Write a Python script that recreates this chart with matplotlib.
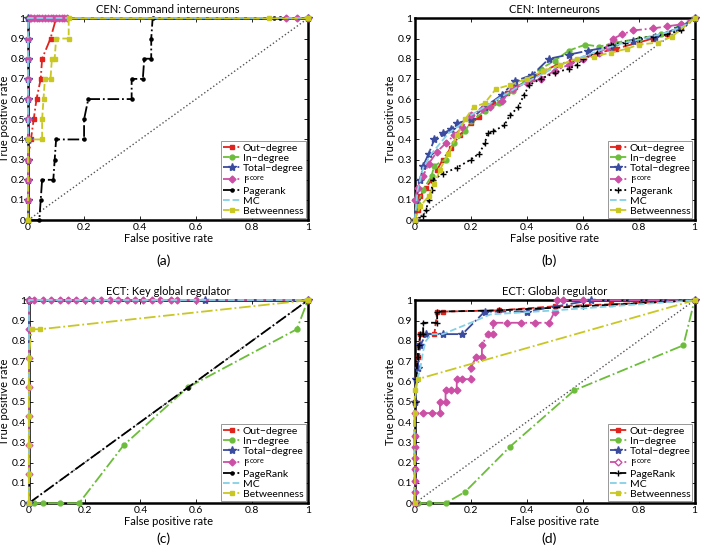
import matplotlib
matplotlib.use("Agg")
import matplotlib.pyplot as plt

plt.rcParams["font.family"] = ["Lato", "DejaVu Sans"]
plt.rcParams["mathtext.fontset"] = "custom"
plt.rcParams["mathtext.rm"] = "Lato"
plt.rcParams["mathtext.it"] = "Lato"

# ---- series names (legend order) ----
LABELS_CEN = ["Out\u2212degree", "In\u2212degree", "Total\u2212degree", r"I$^{\mathrm{score}}$",
              "Pagerank", "MC", "Betweenness"]
LABELS_ECT = ["Out\u2212degree", "In\u2212degree", "Total\u2212degree", r"I$^{\mathrm{score}}$",
              "PageRank", "MC", "Betweenness"]
TITLES = ["CEN: Command interneurons", "CEN: Interneurons",
          "ECT: Key global regulator", "ECT: Global regulator"]
PANEL_TAGS = ["(a)", "(b)", "(c)", "(d)"]

# ---- (a) CEN: Command interneurons ----
a_out_fpr = [0, 0, 0, 0, 0.01, 0.02, 0.03, 0.045, 0.05, 0.08, 0.1, 1]
a_out_tpr = [0, 0.1, 0.2, 0.3, 0.4, 0.5, 0.6, 0.7, 0.8, 0.9, 1, 1]
a_in_fpr = [0, 0, 0, 0, 0, 0, 0, 0, 0, 0, 0, 1]
a_in_tpr = [0, 0.1, 0.2, 0.3, 0.4, 0.5, 0.6, 0.7, 0.8, 0.9, 1, 1]
a_tot_fpr = [0, 0, 0, 0, 0, 0, 0, 0, 0, 0, 0, 1]
a_tot_tpr = [0, 0.1, 0.2, 0.3, 0.4, 0.5, 0.6, 0.7, 0.8, 0.9, 1, 1]
a_isc_fpr = [0, 0, 0, 0, 0, 0, 0, 0, 0, 0.005, 0.01, 0.02, 0.03, 0.04, 0.05, 0.06,
             0.07, 0.08, 0.09, 0.1, 0.11, 0.12, 0.13, 0.14, 0.92, 0.96, 1]
a_isc_tpr = [0.1, 0.2, 0.3, 0.4, 0.5, 0.6, 0.7, 0.8, 0.9, 1, 1, 1, 1, 1, 1, 1,
             1, 1, 1, 1, 1, 1, 1, 1, 1, 1, 1]
a_pr_fpr = [0, 0.04, 0.045, 0.05, 0.09, 0.095, 0.1, 0.2, 0.2, 0.215, 0.37, 0.37,
            0.41, 0.415, 0.44, 0.44, 0.445, 0.86, 0.88, 0.9, 1]
a_pr_tpr = [0, 0, 0.1, 0.2, 0.2, 0.3, 0.4, 0.4, 0.5, 0.6, 0.6, 0.7,
            0.7, 0.8, 0.8, 0.9, 1, 1, 1, 1, 1]
a_mc_fpr = [0, 0, 1]
a_mc_tpr = [0, 1, 1]
a_btw_fpr = [0, 0, 0.05, 0.05, 0.055, 0.06, 0.08, 0.085, 0.095, 0.1, 0.145, 0.145, 0.86, 1]
a_btw_tpr = [0, 0.4, 0.4, 0.5, 0.6, 0.7, 0.7, 0.8, 0.8, 0.9, 0.9, 1, 1, 1]

# ---- (b) CEN: Interneurons ----
b_out_fpr = [0, 0.01, 0.02, 0.04, 0.06, 0.08, 0.1, 0.13, 0.16, 0.2, 0.23, 0.28, 0.33,
             0.36, 0.42, 0.46, 0.51, 0.56, 0.6, 0.66, 0.72, 0.8, 0.85, 0.9, 0.95, 1]
b_out_tpr = [0, 0.05, 0.12, 0.16, 0.2, 0.25, 0.3, 0.36, 0.42, 0.48, 0.51, 0.58, 0.63,
             0.66, 0.7, 0.74, 0.77, 0.79, 0.8, 0.83, 0.85, 0.88, 0.9, 0.92, 0.95, 1]
b_in_fpr = [0, 0.01, 0.03, 0.06, 0.07, 0.11, 0.14, 0.18, 0.2, 0.25, 0.3, 0.35, 0.4,
            0.45, 0.5, 0.55, 0.61, 0.66, 0.72, 0.8, 0.88, 0.94, 1]
b_in_tpr = [0, 0.08, 0.15, 0.22, 0.27, 0.3, 0.38, 0.44, 0.49, 0.54, 0.58, 0.64, 0.7,
            0.75, 0.79, 0.84, 0.87, 0.86, 0.88, 0.9, 0.92, 0.95, 1]
b_tot_fpr = [0, 0.005, 0.02, 0.03, 0.05, 0.07, 0.1, 0.13, 0.15, 0.2, 0.25, 0.31, 0.36,
             0.42, 0.48, 0.55, 0.62, 0.7, 0.78, 0.86, 0.94, 1]
b_tot_tpr = [0, 0.1, 0.2, 0.27, 0.33, 0.4, 0.43, 0.45, 0.48, 0.5, 0.56, 0.62, 0.69,
             0.72, 0.8, 0.82, 0.84, 0.86, 0.89, 0.91, 0.95, 1]
b_isc_fpr = [0, 0.01, 0.03, 0.05, 0.08, 0.11, 0.14, 0.17, 0.2, 0.24, 0.27, 0.31, 0.35,
             0.4, 0.45, 0.5, 0.55, 0.6, 0.66, 0.69, 0.71, 0.74, 0.78, 0.85, 0.9, 0.95, 1]
b_isc_tpr = [0.1, 0.16, 0.22, 0.28, 0.34, 0.38, 0.42, 0.46, 0.52, 0.55, 0.56, 0.59, 0.65,
             0.68, 0.7, 0.74, 0.77, 0.8, 0.83, 0.86, 0.9, 0.92, 0.94, 0.95, 0.96, 0.97, 1]
b_pr_fpr = [0, 0.03, 0.04, 0.05, 0.06, 0.065, 0.1, 0.15, 0.2, 0.23, 0.25, 0.26, 0.28,
            0.32, 0.34, 0.37, 0.39, 0.41, 0.45, 0.5, 0.55, 0.58, 0.6, 0.65, 0.7, 0.75,
            0.8, 0.85, 0.9, 0.95, 1]
b_pr_tpr = [0, 0.02, 0.05, 0.1, 0.15, 0.2, 0.23, 0.26, 0.3, 0.33, 0.38, 0.43, 0.44,
            0.47, 0.52, 0.56, 0.62, 0.67, 0.7, 0.73, 0.75, 0.77, 0.8, 0.83, 0.87, 0.88,
            0.9, 0.91, 0.92, 0.94, 1]
b_mc_fpr = [0, 0.01, 0.03, 0.06, 0.09, 0.12, 0.16, 0.2, 0.26, 0.32, 0.38, 0.45, 0.52,
            0.6, 0.68, 0.75, 0.82, 0.9, 0.96, 1]
b_mc_tpr = [0, 0.15, 0.26, 0.33, 0.38, 0.43, 0.47, 0.52, 0.57, 0.62, 0.67, 0.72, 0.77,
            0.81, 0.85, 0.88, 0.9, 0.93, 0.96, 1]
b_btw_fpr = [0, 0.02, 0.05, 0.07, 0.09, 0.12, 0.15, 0.18, 0.21, 0.25, 0.29, 0.34, 0.4,
             0.46, 0.52, 0.58, 0.64, 0.7, 0.76, 0.8, 0.87, 0.92, 1]
b_btw_tpr = [0, 0.07, 0.12, 0.18, 0.25, 0.33, 0.42, 0.5, 0.56, 0.58, 0.65, 0.67, 0.7,
             0.74, 0.77, 0.8, 0.81, 0.83, 0.85, 0.87, 0.88, 0.91, 1]

# ---- (c) ECT: Key global regulator ----
c_out_fpr = [0, 0, 1]
c_out_tpr = [0, 1, 1]
c_in_fpr = [0, 0.02, 0.05, 0.11, 0.18, 0.34, 0.57, 0.96, 1]
c_in_tpr = [0, 0, 0, 0, 0, 0.286, 0.571, 0.857, 1]
c_tot_fpr = [0, 0, 0.63, 1]
c_tot_tpr = [0, 1, 1, 1]
c_isc_fpr = [0, 0, 0, 0, 0, 0, 0, 0.02, 0.05, 0.08, 0.11, 0.14, 0.17, 0.2, 0.23, 0.26,
             0.29, 0.32, 0.35, 0.38, 0.41, 0.44, 0.47, 0.51, 0.53, 0.6, 1]
c_isc_tpr = [0.143, 0.286, 0.429, 0.571, 0.714, 0.857, 1, 1, 1, 1, 1, 1, 1, 1, 1, 1,
             1, 1, 1, 1, 1, 1, 1, 1, 1, 1, 1]
c_pr_fpr = [0, 0.57, 1]
c_pr_tpr = [0, 0.57, 1]
c_mc_fpr = [0, 0, 1]
c_mc_tpr = [0, 1, 1]
c_btw_fpr = [0, 0, 0, 0, 0, 0, 0.01, 0.04, 1]
c_btw_tpr = [0, 0.143, 0.286, 0.429, 0.571, 0.714, 0.857, 0.857, 1]

# ---- (d) ECT: Global regulator ----
d_out_fpr = [0, 0, 0, 0, 0.005, 0.01, 0.015, 0.02, 0.07, 0.08, 0.1, 0.3, 0.5, 0.7, 1]
d_out_tpr = [0, 0.167, 0.333, 0.5, 0.611, 0.722, 0.778, 0.833, 0.833, 0.944, 0.944,
             0.95, 0.97, 0.98, 1]
d_in_fpr = [0, 0.01, 0.05, 0.11, 0.18, 0.34, 0.57, 0.96, 1]
d_in_tpr = [0, 0, 0, 0, 0.056, 0.278, 0.556, 0.778, 1]
d_tot_fpr = [0, 0, 0.005, 0.01, 0.02, 0.04, 0.1, 0.17, 0.25, 0.4, 0.63, 1]
d_tot_tpr = [0, 0.5, 0.611, 0.667, 0.778, 0.833, 0.833, 0.833, 0.944, 0.944, 1, 1]
d_isc_fpr = [0, 0, 0, 0, 0, 0, 0, 0, 0.03, 0.06, 0.09, 0.09, 0.11, 0.11, 0.13, 0.15,
             0.15, 0.17, 0.2, 0.2, 0.22, 0.24, 0.24, 0.26, 0.28, 0.28, 0.33, 0.38,
             0.43, 0.48, 0.5, 0.51, 0.53, 0.6, 1]
d_isc_tpr = [0, 0.056, 0.111, 0.167, 0.222, 0.278, 0.333, 0.444, 0.444, 0.444, 0.444,
             0.5, 0.5, 0.556, 0.556, 0.556, 0.611, 0.611, 0.611, 0.667, 0.722, 0.722,
             0.778, 0.833, 0.833, 0.889, 0.889, 0.889, 0.889, 0.889, 0.944, 1, 1, 1, 1]
d_pr_fpr = [0, 0, 0.005, 0.01, 0.015, 0.02, 0.03, 0.03, 0.08, 0.08, 0.3, 0.6, 1]
d_pr_tpr = [0, 0.5, 0.611, 0.722, 0.778, 0.833, 0.833, 0.889, 0.889, 0.944, 0.95, 0.97, 1]
d_mc_fpr = [0, 0, 0.01, 0.02, 0.03, 0.04, 0.06, 0.1, 0.2, 0.27, 0.5, 0.7, 1]
d_mc_tpr = [0, 0.5, 0.611, 0.667, 0.75, 0.8, 0.833, 0.833, 0.889, 0.93, 0.95, 0.97, 1]
d_btw_fpr = [0, 0, 0, 0.01, 1]
d_btw_tpr = [0, 0.444, 0.556, 0.611, 1]

# ---- styles ----
COLORS = ["#e0231d", "#6cbd3a", "#3b4b9e", "#cc4fa6", "#000000", "#86d0e6", "#c9c822"]
MSIZES = [3.5, 3.5, 6, 3.5, 4.5, 0, 3]

panels = [
    ([(a_out_fpr, a_out_tpr), (a_in_fpr, a_in_tpr), (a_tot_fpr, a_tot_tpr),
      (a_isc_fpr, a_isc_tpr), (a_pr_fpr, a_pr_tpr), (a_mc_fpr, a_mc_tpr),
      (a_btw_fpr, a_btw_tpr)], LABELS_CEN,
     ["-.", "--", "-.", "-.", "-.", "--", "--"], ["s", "o", "*", "D", ".", "", "s"]),
    ([(b_out_fpr, b_out_tpr), (b_in_fpr, b_in_tpr), (b_tot_fpr, b_tot_tpr),
      (b_isc_fpr, b_isc_tpr), (b_pr_fpr, b_pr_tpr), (b_mc_fpr, b_mc_tpr),
      (b_btw_fpr, b_btw_tpr)], LABELS_CEN,
     ["-.", "--", "-.", "-.", ":", "--", "--"], ["s", "o", "*", "D", "+", "", "s"]),
    ([(c_out_fpr, c_out_tpr), (c_in_fpr, c_in_tpr), (c_tot_fpr, c_tot_tpr),
      (c_isc_fpr, c_isc_tpr), (c_pr_fpr, c_pr_tpr), (c_mc_fpr, c_mc_tpr),
      (c_btw_fpr, c_btw_tpr)], LABELS_ECT,
     ["-.", "-.", "-.", "-.", "-.", "--", "-."], ["s", "o", "*", "D", ".", "", "s"]),
    ([(d_out_fpr, d_out_tpr), (d_in_fpr, d_in_tpr), (d_tot_fpr, d_tot_tpr),
      (d_isc_fpr, d_isc_tpr), (d_pr_fpr, d_pr_tpr), (d_mc_fpr, d_mc_tpr),
      (d_btw_fpr, d_btw_tpr)], LABELS_ECT,
     ["--", "-.", "-.", "-.", "--", "--", "-."], ["s", "o", "*", "D", "+", "", "s"]),
]

# axes boxes in figure fractions (left, bottom, width, height)
boxes = [(0.040, 0.604, 0.398, 0.363), (0.590, 0.604, 0.398, 0.363),
         (0.041, 0.095, 0.397, 0.365), (0.590, 0.095, 0.398, 0.365)]
tag_pos = [(0.232, 0.523), (0.781, 0.523), (0.232, 0.023), (0.781, 0.023)]

fig = plt.figure(figsize=(7.03, 5.56), dpi=100)

for i, (series, labels, styles, markers) in enumerate(panels):
    ax = fig.add_axes(boxes[i])
    ax.plot([0, 1], [0, 1], ":", color="#555555", lw=1, zorder=1)
    for k, (fx, ty) in enumerate(series):
        ax.plot(fx, ty, linestyle=styles[k], color=COLORS[k], lw=1.3,
                marker=markers[k] if markers[k] else None, ms=MSIZES[k],
                mfc=COLORS[k], mec=COLORS[k], label=labels[k], zorder=2 + k,
                clip_on=False)
    ax.set_xlim(0, 1)
    ax.set_ylim(0, 1)
    ax.set_xticks([0, 0.2, 0.4, 0.6, 0.8, 1])
    ax.set_xticklabels(["0", "0.2", "0.4", "0.6", "0.8", "1"])
    ax.set_yticks([0, 0.1, 0.2, 0.3, 0.4, 0.5, 0.6, 0.7, 0.8, 0.9, 1])
    ax.set_yticklabels(["0", "0.1", "0.2", "0.3", "0.4", "0.5", "0.6", "0.7", "0.8", "0.9", "1"])
    ax.tick_params(direction="in", length=3, width=0.6, labelsize=7.5, pad=2,
                   top=True, right=True)
    for sp in ax.spines.values():
        sp.set_linewidth(1.8)
        sp.set_zorder(1.5)
    ax.set_xlabel("False positive rate", fontsize=8, labelpad=1)
    ax.set_ylabel("True positive rate", fontsize=8, labelpad=1)
    ax.set_title(TITLES[i], fontsize=8, pad=4)
    leg = ax.legend(loc="lower right", fontsize=7.5, frameon=True, fancybox=False,
                    edgecolor="#888888", framealpha=1, borderaxespad=0.2,
                    labelspacing=0.08, handlelength=1.6, handletextpad=0.3,
                    borderpad=0.2)
    leg.get_frame().set_linewidth(0.6)
    leg.set_zorder(20)
    if i == 3:
        # open diamond for the I-score legend entry, as in the original
        leg.legend_handles[3].set_markerfacecolor("white")
    fig.text(tag_pos[i][0], tag_pos[i][1], PANEL_TAGS[i], fontsize=10, ha="center")

fig.savefig("out.png", dpi=100)
